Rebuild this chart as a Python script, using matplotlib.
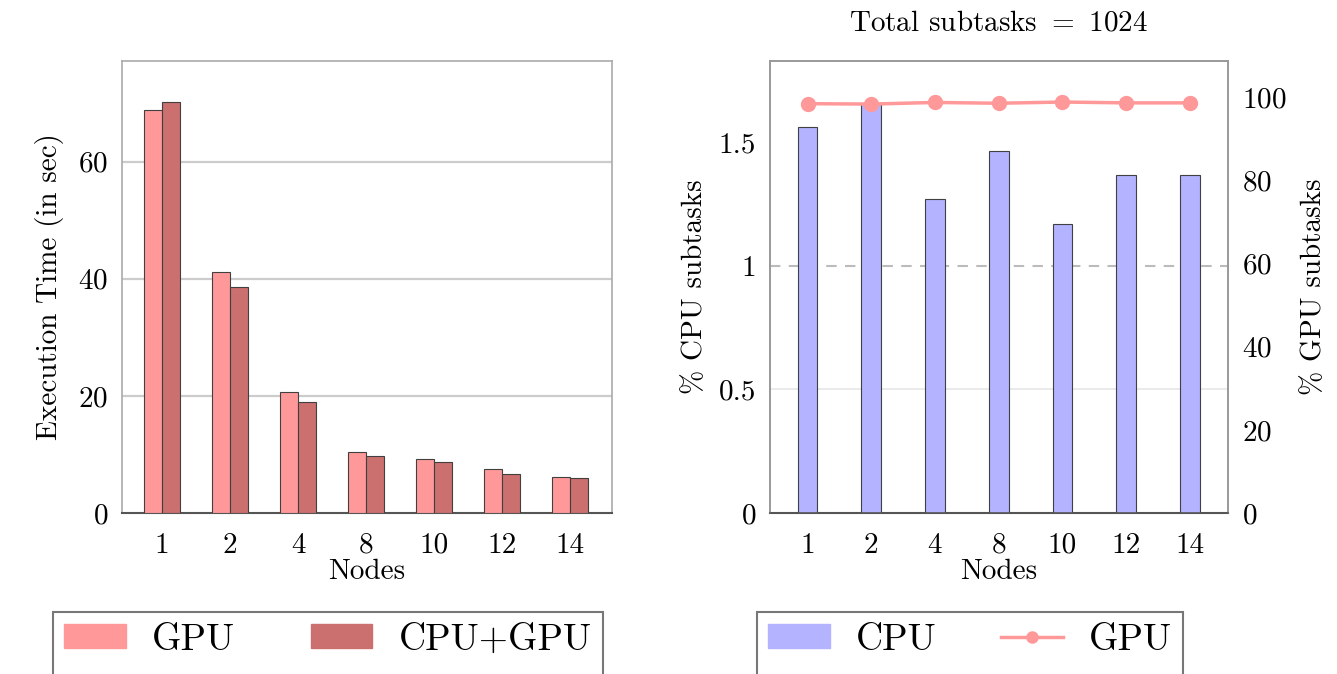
import matplotlib
matplotlib.use("Agg")
import matplotlib.pyplot as plt
import numpy as np
from matplotlib.patches import Patch
from matplotlib.lines import Line2D

plt.rcParams['font.family'] = ['cmr10', 'DejaVu Serif']
plt.rcParams['mathtext.fontset'] = 'cm'
plt.rcParams['axes.formatter.use_mathtext'] = True

# ---- data ----
nodes = ["1", "2", "4", "8", "10", "12", "14"]
time_gpu = [68.8, 41.1, 20.6, 10.5, 9.3, 7.6, 6.1]
time_cpugpu = [70.2, 38.6, 18.9, 9.8, 8.7, 6.6, 6.0]
cpu_pct = [1.5625, 1.66, 1.27, 1.465, 1.17, 1.367, 1.367]
gpu_pct = [98.44, 98.34, 98.73, 98.54, 98.83, 98.63, 98.63]
left_yticks = [0, 20, 40, 60]
cpu_yticks = [0, 0.5, 1, 1.5]
cpu_yticklabels = ["0", "0.5", "1", "1.5"]
gpu_yticks = [0, 20, 40, 60, 80, 100]

c_gpu = "#FF9999"
c_cpugpu = "#CC6F6F"
c_cpu = "#B3B3FF"
edge = "#404040"

W, H = 1337, 674
fig = plt.figure(figsize=(W / 100, H / 100), dpi=100)

def fx(px):
    return px / W

def fy(py):
    return 1 - py / H

FS = 21
LFS = 27

# ---------------- left chart ----------------
ax1 = fig.add_axes([fx(122), fy(513), fx(612) - fx(122), fy(61) - fy(513)])
x = np.arange(len(nodes))
bw = 0.27
ax1.bar(x - bw / 2, time_gpu, bw, color=c_gpu, edgecolor=edge, linewidth=0.8, zorder=3)
ax1.bar(x + bw / 2, time_cpugpu, bw, color=c_cpugpu, edgecolor=edge, linewidth=0.8, zorder=3)
ax1.set_xlim(-0.59, 6.62)
ax1.set_ylim(0, 77.2)
ax1.set_yticks(left_yticks)
ax1.set_xticks(x)
ax1.set_xticklabels(nodes)
for v in [20, 40, 60]:
    ax1.axhline(v, color="#cccccc", linewidth=1.6, zorder=1)
ax1.tick_params(axis='both', length=0, labelsize=FS)
ax1.tick_params(axis='x', pad=14)
ax1.tick_params(axis='y', pad=10)
ax1.set_xlabel("Nodes", fontsize=FS, labelpad=0)
ax1.set_ylabel("Execution Time (in sec)", fontsize=FS, labelpad=10)
for s in ["top", "left", "right"]:
    ax1.spines[s].set_color("#aaaaaa")
    ax1.spines[s].set_linewidth(1.2)
ax1.spines["bottom"].set_color("#555555")
ax1.spines["bottom"].set_linewidth(1.5)

blank = Patch(facecolor="none", edgecolor="none", label=" ")
leg1 = fig.legend(
    handles=[Patch(facecolor=c_gpu, edgecolor=c_gpu, label="GPU"), blank,
             Patch(facecolor=c_cpugpu, edgecolor=c_cpugpu, label="CPU+GPU"), blank],
    loc="upper left", bbox_to_anchor=(fx(53), fy(612)), ncol=2, fontsize=LFS,
    frameon=True, fancybox=False, borderpad=0.3, handlelength=1.65,
    handleheight=0.6, handletextpad=0.7, columnspacing=2.0, borderaxespad=0)
leg1.get_frame().set_edgecolor("#555555")
leg1.get_frame().set_linewidth(1.5)

# ---------------- right chart ----------------
ax2 = fig.add_axes([fx(770), fy(513), fx(1228) - fx(770), fy(61) - fy(513)])
bw2 = 0.31
ax2.bar(x, cpu_pct, bw2, color=c_cpu, edgecolor=edge, linewidth=0.8, zorder=3)
ax2.set_xlim(-0.59, 6.6)
ax2.set_ylim(0, 1.828)
ax2.set_yticks(cpu_yticks)
ax2.set_yticklabels(cpu_yticklabels)
ax2.set_xticks(x)
ax2.set_xticklabels(nodes)
ax2.axhline(1, color="#bbbbbb", linewidth=1.5, linestyle=(0, (5, 4)), zorder=1)
ax2.axhline(0.5, color="#e6e6e6", linewidth=1.2, zorder=1)
ax2.tick_params(axis='both', length=0, labelsize=FS)
ax2.tick_params(axis='x', pad=14)
ax2.tick_params(axis='y', pad=10)
ax2.set_xlabel("Nodes", fontsize=FS, labelpad=0)
ax2.set_ylabel("% CPU subtasks", fontsize=FS, labelpad=8)
ax2.set_title("Total subtasks $=$ 1024", fontsize=FS, pad=22)

ax3 = ax2.twinx()
ax3.plot(x, gpu_pct, color=c_gpu, linewidth=2.5, marker="o", markersize=10, zorder=4)
ax3.set_ylim(0, 108.7)
ax3.set_yticks(gpu_yticks)
ax3.tick_params(axis='y', length=0, labelsize=FS, pad=10)
ax3.set_ylabel("% GPU subtasks", fontsize=FS, labelpad=10)
for a in (ax2, ax3):
    for s in a.spines.values():
        s.set_color("#999999")
        s.set_linewidth(1.2)
ax2.spines["bottom"].set_color("#555555")
ax3.spines["bottom"].set_color("#555555")
ax2.spines["bottom"].set_linewidth(1.5)

leg2 = fig.legend(
    handles=[Patch(facecolor=c_cpu, edgecolor=c_cpu, label="CPU"), blank,
             Line2D([0], [0], color=c_gpu, linewidth=2.5, marker="o", markersize=8, label="GPU"), blank],
    loc="upper left", bbox_to_anchor=(fx(757), fy(612)), ncol=2, fontsize=LFS,
    frameon=True, fancybox=False, borderpad=0.3, handlelength=1.65,
    handleheight=0.6, handletextpad=0.7, columnspacing=1.7, borderaxespad=0)
leg2.get_frame().set_edgecolor("#555555")
leg2.get_frame().set_linewidth(1.5)

fig.savefig("out.png", dpi=100)
